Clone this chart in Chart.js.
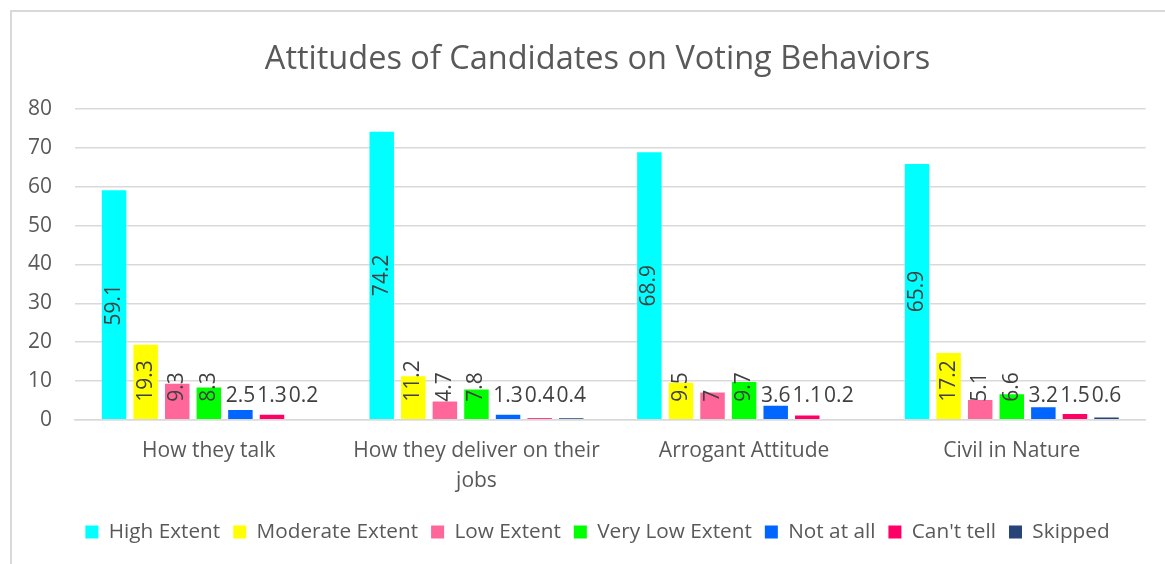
<!DOCTYPE html>
<html>
<head>
<meta charset="utf-8">
<script src="https://cdn.jsdelivr.net/npm/chart.js@4.4.1/dist/chart.umd.min.js"></script>
<style>
  html, body { margin: 0; padding: 0; background: #ffffff; }
  canvas { display: block; }
</style>
</head>
<body>
<canvas id="chart" width="1165" height="564"></canvas>
<script>
// Survey categories and response shares (%)
const categories = ['How they talk', ['How they deliver on their', 'jobs'], 'Arrogant Attitude', 'Civil in Nature'];
const seriesNames = ['High Extent', 'Moderate Extent', 'Low Extent', 'Very Low Extent', 'Not at all', "Can't tell", 'Skipped'];

const highExtent     = [59.1, 74.2, 68.9, 65.9];
const moderateExtent = [19.3, 11.2, 9.5, 17.2];
const lowExtent      = [9.3, 4.7, 7, 5.1];
const veryLowExtent  = [8.3, 7.8, 9.7, 6.6];
const notAtAll       = [2.5, 1.3, 3.6, 3.2];
const cantTell       = [1.3, 0.4, 1.1, 1.5];
const skipped        = [0.2, 0.4, 0.2, 0.6];

const yTickLabels = ['0', '10', '20', '30', '40', '50', '60', '70', '80'];

const seriesValues = [highExtent, moderateExtent, lowExtent, veryLowExtent, notAtAll, cantTell, skipped];
const seriesColors = ['#00FFFF', '#FFFF00', '#FF6699', '#00FF00', '#0066FF', '#FF0066', '#264478'];

const FONT = '"Open Sans", "Noto Sans", sans-serif';
Chart.defaults.font.family = FONT;
Chart.defaults.color = '#595959';

// Frame lines along the top and left of the chart
const framePlugin = {
  id: 'frame',
  beforeDraw(chart) {
    const ctx = chart.ctx;
    ctx.save();
    ctx.fillStyle = '#ffffff';
    ctx.fillRect(0, 0, chart.width, chart.height);
    ctx.strokeStyle = '#d9d9d9';
    ctx.lineWidth = 2;
    ctx.beginPath();
    ctx.moveTo(11, chart.height + 5);
    ctx.lineTo(11, 11);
    ctx.lineTo(chart.width + 5, 11);
    ctx.stroke();
    ctx.restore();
  }
};

// Value labels: the first four series are written vertically inside the bars,
// the small ones are written upright just above the baseline.
const UPRIGHT_FROM = 4;
const valueLabelPlugin = {
  id: 'valueLabels',
  afterDatasetsDraw(chart) {
    const ctx = chart.ctx;
    const zeroY = chart.scales.y.getPixelForValue(0);
    const floor = zeroY - 18;
    ctx.save();
    ctx.font = '21px ' + FONT;
    ctx.fillStyle = '#404040';
    chart.data.datasets.forEach((ds, di) => {
      const meta = chart.getDatasetMeta(di);
      meta.data.forEach((bar, i) => {
        const text = String(ds.data[i]);
        const w = ctx.measureText(text).width;
        if (di >= UPRIGHT_FROM) {
          ctx.textAlign = 'center';
          ctx.textBaseline = 'alphabetic';
          ctx.fillText(text, bar.x, floor);
        } else {
          const mid = (bar.y + bar.base) / 2;
          const cy = Math.min(mid, floor - w / 2);
          ctx.save();
          ctx.translate(bar.x, cy);
          ctx.rotate(-Math.PI / 2);
          ctx.textAlign = 'center';
          ctx.textBaseline = 'middle';
          ctx.fillText(text, 0, 0);
          ctx.restore();
        }
      });
    });
    ctx.restore();
  }
};

new Chart(document.getElementById('chart'), {
  type: 'bar',
  data: {
    labels: categories,
    datasets: seriesNames.map((name, k) => ({
      label: name,
      data: seriesValues[k],
      backgroundColor: seriesColors[k],
      borderWidth: 0,
      barPercentage: 0.775,
      categoryPercentage: 0.826,
      yAxisID: 'y'
    }))
  },
  options: {
    responsive: false,
    animation: false,
    devicePixelRatio: 1,
    // the frame runs on past the right edge, so the title and legend are centred on it
    layout: { padding: { left: 11, right: -19, top: 11, bottom: 11.75 } },
    plugins: {
      tooltip: { enabled: false },
      title: {
        display: true,
        text: 'Attitudes of Candidates on Voting Behaviors',
        color: '#595959',
        font: { size: 32.5, weight: 'normal', lineHeight: 1.2 },
        padding: { top: 29, bottom: 30.2 }
      },
      legend: {
        position: 'bottom',
        labels: {
          color: '#595959',
          font: { size: 20.75 },
          boxWidth: 13,
          boxHeight: 13,
          padding: 13
        }
      }
    },
    scales: {
      x: {
        grid: { display: false, drawTicks: false },
        border: { display: true, color: '#d9d9d9', width: 1.5 },
        ticks: {
          color: '#595959',
          font: { size: 21, lineHeight: 1.43 },
          padding: 16,
          maxRotation: 0,
          autoSkip: false
        },
        afterFit(scale) { scale.height = 88.75; }
      },
      y: {
        min: 0,
        max: 80,
        grid: { color: '#d9d9d9', lineWidth: 1.5, drawTicks: false },
        border: { display: false },
        ticks: {
          stepSize: 10,
          color: '#595959',
          font: { size: 21 },
          padding: 23,
          callback: (value, index) => yTickLabels[index]
        },
        afterFit(scale) { scale.width = 64; }
      },
      margin: {
        position: 'right',
        display: true,
        grid: { display: false, drawTicks: false },
        border: { display: false },
        ticks: { display: false },
        afterFit(scale) { scale.width = 38.4; }
      }
    }
  },
  plugins: [framePlugin, valueLabelPlugin]
});
</script>
</body>
</html>
